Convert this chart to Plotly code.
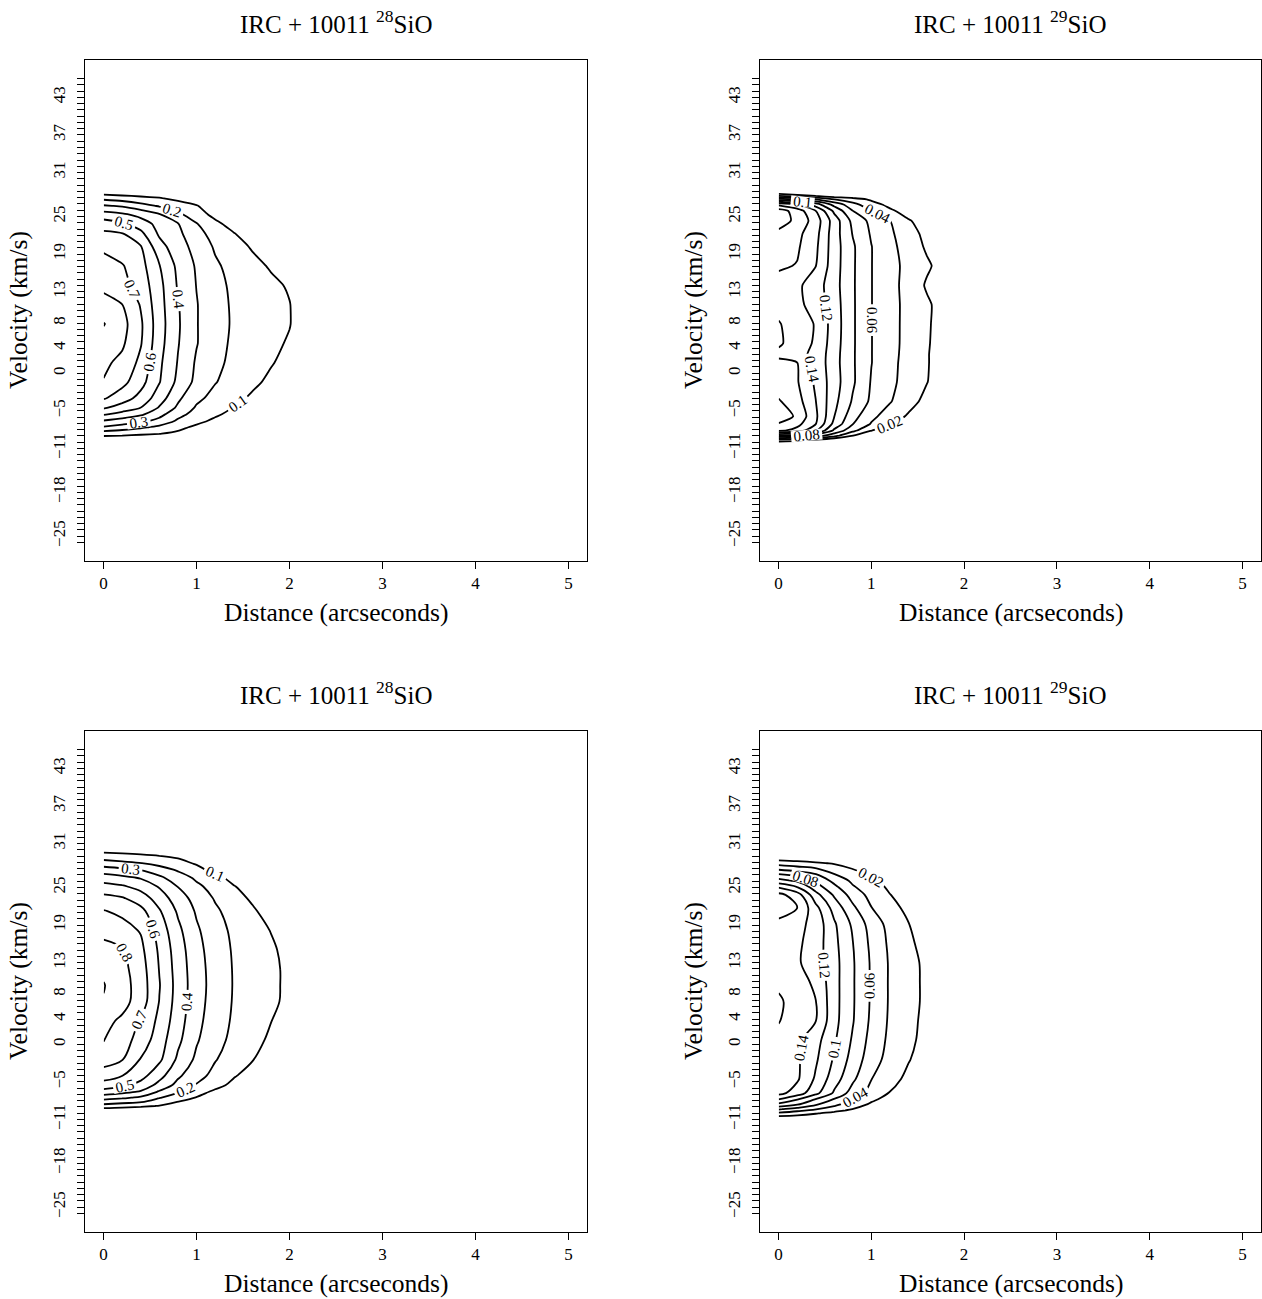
import plotly.graph_objects as go

W, H = 1262, 1299
FONT = "Liberation Serif, Times New Roman, serif"

# ---------------- data ----------------
distance = [0.0, 0.2, 0.4, 0.6, 0.8, 1.0, 1.2, 1.4, 1.6, 1.8, 2.0, 2.2, 2.4]

# observed 28SiO (top left)
vel_obs28 = [-11, -9.8, -9, -8, -7, -6, -5, -3.5, -1, 2, 5, 8, 11, 14, 17, 20,
             22, 23.5, 25, 26.3, 27.5, 28.5, 30]
z_obs28 = [
    [0, 0, 0, 0, 0, 0, 0, 0, 0, 0, 0, 0, 0],
    [0.05, 0.05, 0.04, 0.04, 0.03, 0.02, 0.01, 0, 0, 0, 0, 0, 0],
    [0.14, 0.128, 0.115, 0.103, 0.08, 0.05, 0.02, 0, 0, 0, 0, 0, 0],
    [0.29, 0.254, 0.218, 0.175, 0.125, 0.08, 0.04, 0.02, 0, 0, 0, 0, 0],
    [0.395, 0.363, 0.326, 0.271, 0.186, 0.13, 0.08, 0.04, 0.02, 0, 0, 0, 0],
    [0.51, 0.463, 0.416, 0.332, 0.23, 0.166, 0.117, 0.07, 0.04, 0.02, 0, 0, 0],
    [0.61, 0.556, 0.498, 0.39, 0.282, 0.187, 0.143, 0.095, 0.06, 0.03, 0.01, 0, 0],
    [0.71, 0.645, 0.567, 0.447, 0.319, 0.223, 0.168, 0.126, 0.085, 0.045, 0.015, 0, 0],
    [0.795, 0.731, 0.635, 0.505, 0.376, 0.274, 0.205, 0.16, 0.12, 0.08, 0.04, 0.01, 0],
    [0.82, 0.774, 0.675, 0.519, 0.394, 0.287, 0.223, 0.177, 0.142, 0.107, 0.07, 0.02, 0],
    [0.86, 0.816, 0.707, 0.536, 0.406, 0.305, 0.233, 0.184, 0.153, 0.122, 0.09, 0.03, 0],
    [0.905, 0.835, 0.715, 0.543, 0.412, 0.305, 0.237, 0.189, 0.161, 0.132, 0.104, 0.04, 0],
    [0.83, 0.801, 0.692, 0.536, 0.406, 0.305, 0.235, 0.187, 0.159, 0.131, 0.103, 0.04, 0],
    [0.78, 0.73, 0.659, 0.529, 0.39, 0.297, 0.228, 0.182, 0.151, 0.12, 0.09, 0.03, 0],
    [0.74, 0.708, 0.635, 0.505, 0.377, 0.289, 0.215, 0.168, 0.128, 0.09, 0.05, 0.02, 0],
    [0.68, 0.64, 0.605, 0.436, 0.343, 0.265, 0.188, 0.138, 0.09, 0.05, 0.02, 0.01, 0],
    [0.62, 0.604, 0.525, 0.384, 0.322, 0.235, 0.16, 0.105, 0.05, 0.02, 0.01, 0, 0],
    [0.55, 0.517, 0.45, 0.367, 0.305, 0.205, 0.126, 0.06, 0.03, 0.01, 0, 0, 0],
    [0.44, 0.413, 0.367, 0.305, 0.22, 0.144, 0.07, 0.03, 0.01, 0, 0, 0, 0],
    [0.31, 0.288, 0.238, 0.189, 0.144, 0.105, 0.05, 0.02, 0, 0, 0, 0, 0],
    [0.17, 0.147, 0.123, 0.105, 0.075, 0.05, 0.02, 0, 0, 0, 0, 0, 0],
    [0.04, 0.03, 0.03, 0.02, 0.02, 0.01, 0, 0, 0, 0, 0, 0, 0],
    [0, 0, 0, 0, 0, 0, 0, 0, 0, 0, 0, 0, 0],
]

# observed 29SiO (top right)
vel_obs29 = [-11.5, -10.6, -10.0, -9.3, -8.5, -7.5, -6.3, -4, -1, 2, 3.3, 5, 8, 11,
             14, 17, 20, 22, 24, 25.5, 26.5, 27.3, 28.0, 28.7, 30]
z_obs29 = [
    [0, 0, 0, 0, 0, 0, 0, 0, 0, 0, 0, 0, 0],
    [0.005, 0.004, 0.002, 0, 0, 0, 0, 0, 0, 0, 0, 0, 0],
    [0.03, 0.0233, 0.0133, 0, 0, 0, 0, 0, 0, 0, 0, 0, 0],
    [0.101, 0.0867, 0.0705, 0.0475, 0.0205, 0.0067, 0, 0, 0, 0, 0, 0, 0],
    [0.165, 0.1533, 0.1233, 0.076, 0.0459, 0.0205, 0.0067, 0, 0, 0, 0, 0, 0],
    [0.178, 0.166, 0.1405, 0.094, 0.0605, 0.0384, 0.0224, 0.0074, 0, 0, 0, 0, 0],
    [0.195, 0.176, 0.144, 0.1005, 0.0677, 0.045, 0.0303, 0.0176, 0.006, 0, 0, 0, 0],
    [0.182, 0.168, 0.1405, 0.1057, 0.0776, 0.0563, 0.0415, 0.0271, 0.0143, 0.0029, 0, 0, 0],
    [0.168, 0.1618, 0.1367, 0.1089, 0.0829, 0.0586, 0.0448, 0.0321, 0.0205, 0.0086, 0, 0, 0],
    [0.165, 0.1605, 0.1343, 0.1075, 0.0825, 0.0605, 0.0457, 0.0329, 0.0212, 0.0105, 0, 0, 0],
    [0.155, 0.1467, 0.1347, 0.108, 0.0825, 0.0605, 0.0462, 0.0335, 0.0212, 0.0105, 0, 0, 0],
    [0.163, 0.1509, 0.1371, 0.1093, 0.0827, 0.0605, 0.0467, 0.0339, 0.0218, 0.0108, 0, 0, 0],
    [0.1615, 0.1506, 0.1386, 0.1105, 0.0827, 0.0605, 0.0467, 0.0341, 0.0224, 0.0111, 0, 0, 0],
    [0.153, 0.1449, 0.132, 0.1093, 0.0827, 0.0605, 0.0467, 0.0343, 0.0229, 0.0114, 0, 0, 0],
    [0.152, 0.144, 0.13, 0.1075, 0.0825, 0.0605, 0.0467, 0.0331, 0.0176, 0.0059, 0, 0, 0],
    [0.163, 0.159, 0.1405, 0.1088, 0.0827, 0.0605, 0.0467, 0.0343, 0.0229, 0.0114, 0, 0, 0],
    [0.17, 0.1629, 0.144, 0.1093, 0.0827, 0.0605, 0.0457, 0.0311, 0.0171, 0.0057, 0, 0, 0],
    [0.175, 0.1656, 0.1467, 0.1092, 0.0789, 0.0579, 0.0436, 0.028, 0.0143, 0.003, 0, 0, 0],
    [0.19, 0.175, 0.1505, 0.1105, 0.0744, 0.0548, 0.0405, 0.0218, 0.0105, 0, 0, 0, 0],
    [0.19, 0.171, 0.1405, 0.096, 0.0605, 0.0405, 0.024, 0.011, 0, 0, 0, 0, 0],
    [0.155, 0.1405, 0.1105, 0.0733, 0.0467, 0.028, 0.0143, 0.003, 0, 0, 0, 0, 0],
    [0.09, 0.076, 0.0605, 0.0405, 0.0286, 0.017, 0.0057, 0, 0, 0, 0, 0, 0],
    [0.025, 0.0205, 0.007, 0, 0, 0, 0, 0, 0, 0, 0, 0, 0],
    [0, 0, 0, 0, 0, 0, 0, 0, 0, 0, 0, 0, 0],
    [0, 0, 0, 0, 0, 0, 0, 0, 0, 0, 0, 0, 0],
]

# model 28SiO (bottom left)
vel_mod28 = [-11, -9.8, -9.2, -8.6, -7.9, -7, -6, -4.5, -2, 1, 4, 7, 9.5, 12, 15, 18,
             21, 23, 24.8, 26.2, 27.4, 28.4, 29.4, 30.5, 31.5]
z_mod28 = [
    [0, 0, 0, 0, 0, 0, 0, 0, 0, 0, 0, 0, 0],
    [0.05, 0.045, 0.04, 0.035, 0.025, 0.015, 0.005, 0, 0, 0, 0, 0, 0],
    [0.16, 0.138, 0.116, 0.095, 0.06, 0.03, 0.01, 0, 0, 0, 0, 0, 0],
    [0.25, 0.225, 0.205, 0.147, 0.095, 0.05, 0.02, 0, 0, 0, 0, 0, 0],
    [0.343, 0.318, 0.281, 0.207, 0.15, 0.095, 0.05, 0.02, 0, 0, 0, 0, 0],
    [0.4625, 0.429, 0.388, 0.287, 0.211, 0.141, 0.08, 0.045, 0.02, 0, 0, 0, 0],
    [0.554, 0.521, 0.466, 0.367, 0.268, 0.192, 0.131, 0.075, 0.04, 0.015, 0, 0, 0],
    [0.65, 0.602, 0.536, 0.435, 0.317, 0.237, 0.169, 0.109, 0.06, 0.025, 0, 0, 0],
    [0.744, 0.705, 0.594, 0.519, 0.381, 0.28, 0.206, 0.152, 0.105, 0.05, 0.015, 0, 0],
    [0.805, 0.745, 0.658, 0.547, 0.422, 0.31, 0.234, 0.175, 0.128, 0.085, 0.045, 0.01, 0],
    [0.83, 0.782, 0.689, 0.575, 0.444, 0.328, 0.248, 0.187, 0.144, 0.102, 0.06, 0.02, 0],
    [0.895, 0.837, 0.751, 0.597, 0.458, 0.339, 0.257, 0.193, 0.155, 0.117, 0.08, 0.04, 0],
    [0.905, 0.842, 0.753, 0.605, 0.462, 0.344, 0.26, 0.195, 0.158, 0.12, 0.08, 0.04, 0],
    [0.88, 0.83, 0.745, 0.596, 0.457, 0.341, 0.258, 0.194, 0.157, 0.12, 0.08, 0.04, 0],
    [0.83, 0.807, 0.724, 0.584, 0.447, 0.332, 0.251, 0.19, 0.152, 0.115, 0.07, 0.03, 0],
    [0.773, 0.735, 0.693, 0.559, 0.424, 0.315, 0.239, 0.181, 0.138, 0.097, 0.05, 0.02, 0],
    [0.705, 0.68, 0.63, 0.51, 0.386, 0.288, 0.216, 0.162, 0.114, 0.06, 0.02, 0, 0],
    [0.631, 0.609, 0.55, 0.453, 0.347, 0.262, 0.191, 0.136, 0.085, 0.04, 0.01, 0, 0],
    [0.5375, 0.513, 0.466, 0.391, 0.297, 0.222, 0.161, 0.105, 0.06, 0.025, 0, 0, 0],
    [0.445, 0.421, 0.389, 0.318, 0.248, 0.181, 0.125, 0.07, 0.035, 0.01, 0, 0, 0],
    [0.348, 0.323, 0.295, 0.241, 0.187, 0.129, 0.07, 0.035, 0.01, 0, 0, 0, 0],
    [0.244, 0.224, 0.204, 0.17, 0.13, 0.09, 0.05, 0.02, 0, 0, 0, 0, 0],
    [0.157, 0.141, 0.125, 0.109, 0.09, 0.06, 0.03, 0.01, 0, 0, 0, 0, 0],
    [0.06, 0.055, 0.05, 0.045, 0.035, 0.025, 0.01, 0, 0, 0, 0, 0, 0],
    [0, 0, 0, 0, 0, 0, 0, 0, 0, 0, 0, 0, 0],
]

# model 29SiO (bottom right)
vel_mod29 = [-11.5, -10.8, -10.3, -9.7, -9.0, -8.2, -7.2, -5, -2, 1, 4, 7, 10, 13,
             16, 19, 21.5, 23.5, 24.7, 25.7, 26.7, 27.6, 28.4, 29.2, 30.5]
z_mod29 = [
    [0, 0, 0, 0, 0, 0, 0, 0, 0, 0, 0, 0, 0],
    [0.019, 0.016, 0.012, 0.008, 0.004, 0.001, 0, 0, 0, 0, 0, 0, 0],
    [0.037, 0.0294, 0.0221, 0.015, 0.008, 0.002, 0, 0, 0, 0, 0, 0, 0],
    [0.062, 0.0514, 0.0405, 0.03, 0.0195, 0.01, 0, 0, 0, 0, 0, 0, 0],
    [0.094, 0.0805, 0.0618, 0.0443, 0.0293, 0.0165, 0.0065, 0, 0, 0, 0, 0, 0],
    [0.1195, 0.1005, 0.078, 0.058, 0.0385, 0.0237, 0.0125, 0.0025, 0, 0, 0, 0, 0],
    [0.146, 0.1311, 0.1057, 0.0771, 0.0511, 0.0329, 0.019, 0.0085, 0, 0, 0, 0, 0],
    [0.15, 0.1429, 0.1171, 0.0893, 0.0638, 0.0405, 0.0271, 0.0153, 0.005, 0, 0, 0, 0],
    [0.152, 0.1434, 0.1229, 0.0975, 0.0725, 0.0489, 0.0329, 0.0212, 0.0105, 0, 0, 0, 0],
    [0.154, 0.1447, 0.1275, 0.1025, 0.0775, 0.0533, 0.0356, 0.0244, 0.0137, 0.003, 0, 0, 0],
    [0.161, 0.1505, 0.1405, 0.1063, 0.0813, 0.0563, 0.0371, 0.0257, 0.0147, 0.004, 0, 0, 0],
    [0.163, 0.1518, 0.1405, 0.107, 0.0821, 0.0576, 0.0378, 0.0267, 0.0158, 0.005, 0, 0, 0],
    [0.156, 0.1476, 0.1365, 0.107, 0.0821, 0.0576, 0.0378, 0.0267, 0.0158, 0.005, 0, 0, 0],
    [0.148, 0.1427, 0.1297, 0.107, 0.0821, 0.0576, 0.0378, 0.0267, 0.0153, 0.005, 0, 0, 0],
    [0.15, 0.1438, 0.1306, 0.1053, 0.0805, 0.0556, 0.0363, 0.0238, 0.0126, 0.002, 0, 0, 0],
    [0.155, 0.1467, 0.1327, 0.1027, 0.0763, 0.0518, 0.0333, 0.0205, 0.01, 0, 0, 0, 0],
    [0.17, 0.1609, 0.126, 0.0923, 0.064, 0.0405, 0.0267, 0.015, 0.005, 0, 0, 0, 0],
    [0.166, 0.15, 0.1073, 0.0773, 0.0518, 0.0335, 0.0206, 0.0103, 0, 0, 0, 0, 0],
    [0.138, 0.1205, 0.09, 0.0651, 0.0423, 0.0288, 0.0167, 0.0056, 0, 0, 0, 0, 0],
    [0.107, 0.0962, 0.0767, 0.0544, 0.0359, 0.0241, 0.0132, 0.0026, 0, 0, 0, 0, 0],
    [0.081, 0.0727, 0.0606, 0.0405, 0.0279, 0.0162, 0.0054, 0, 0, 0, 0, 0, 0],
    [0.054, 0.0473, 0.041, 0.03, 0.019, 0.012, 0.006, 0, 0, 0, 0, 0, 0],
    [0.0325, 0.028, 0.0234, 0.018, 0.013, 0.008, 0.003, 0, 0, 0, 0, 0, 0],
    [0.01, 0.008, 0.005, 0.002, 0, 0, 0, 0, 0, 0, 0, 0, 0],
    [0, 0, 0, 0, 0, 0, 0, 0, 0, 0, 0, 0, 0],
]

x_tick_values = [0, 1, 2, 3, 4, 5]
velocity_tick_labels = [-25, -18, -11, -5, 0, 4, 8, 13, 19, 25, 31, 37, 43]
channel_first, channel_last, n_channels = -25.85, 46.02, 75
title_isotopes = ["28", "29", "28", "29"]

# ---------------- layout geometry ----------------
x_dom = [(85 / W, 587 / W), (760 / W, 1261 / W)]
y_dom = [(1 - 561 / H, 1 - 60 / H), (1 - 1232 / H, 1 - 731 / H)]
x_range = [-0.2, 5.2]
y_range = [-28.72, 48.89]

channels = [channel_first + i * (channel_last - channel_first) / (n_channels - 1)
            for i in range(n_channels)]
ticktext = [" "] * n_channels
for lab in velocity_tick_labels:
    k = min(range(n_channels), key=lambda j: abs(channels[j] - lab))
    ticktext[k] = ("\u2212" + str(-lab)) if lab < 0 else str(lab)

panels = [
    (vel_obs28, z_obs28, 0.1, 0.9, 0.1, 0, 0, 0.6),
    (vel_obs29, z_obs29, 0.02, 0.18, 0.02, 1, 0, 0.6),
    (vel_mod28, z_mod28, 0.1, 0.9, 0.1, 0, 1, 1.0),
    (vel_mod29, z_mod29, 0.02, 0.18, 0.02, 1, 1, 1.0),
]

fig = go.Figure()
layout = dict(
    width=W, height=H, autosize=False,
    margin=dict(l=0, r=0, t=0, b=0),
    paper_bgcolor="white", plot_bgcolor="white",
    showlegend=False, font=dict(family=FONT, color="black"),
)
annotations = []

for i, (vel, z, s, e, step, col, row, smooth) in enumerate(panels):
    n = i + 1
    xa = "x" if n == 1 else f"x{n}"
    ya = "y" if n == 1 else f"y{n}"
    fig.add_trace(go.Contour(
        x=distance, y=vel, z=z, xaxis=xa, yaxis=ya,
        autocontour=False,
        contours=dict(start=s, end=e, size=step, coloring="lines",
                      showlabels=True, labelformat=".2~f",
                      labelfont=dict(family=FONT, size=15, color="black")),
        colorscale=[[0, "black"], [1, "black"]], showscale=False,
        line=dict(width=1.8, smoothing=smooth), hoverinfo="skip",
    ))
    xkey = "xaxis" if n == 1 else f"xaxis{n}"
    ykey = "yaxis" if n == 1 else f"yaxis{n}"
    layout[xkey] = dict(
        domain=list(x_dom[col]), anchor=ya, range=x_range,
        tickmode="array", tickvals=x_tick_values,
        ticktext=[str(t) for t in x_tick_values],
        ticks="outside", ticklen=7, tickwidth=1, tickcolor="black",
        showline=True, linecolor="black", linewidth=1, mirror=True,
        showgrid=False, zeroline=False,
        tickfont=dict(family=FONT, size=17, color="black"),
    )
    layout[ykey] = dict(
        domain=list(y_dom[row]), anchor=xa, range=y_range,
        tickmode="array", tickvals=channels, ticktext=ticktext,
        ticks="outside", ticklen=7, tickwidth=1, tickcolor="black",
        tickangle=-90, ticklabelstandoff=5,
        showline=True, linecolor="black", linewidth=1, mirror=True,
        showgrid=False, zeroline=False,
        tickfont=dict(family=FONT, size=17, color="black"),
    )
    cx = (x_dom[col][0] + x_dom[col][1]) / 2
    top_px = 60 + 671 * row
    annotations.append(dict(
        text=f"IRC + 10011 <sup>{title_isotopes[i]}</sup>SiO",
        x=cx, y=1 - (top_px - 38) / H, xref="paper", yref="paper",
        xanchor="center", yanchor="middle", showarrow=False,
        font=dict(family=FONT, size=25, color="black")))
    annotations.append(dict(
        text="Distance (arcseconds)",
        x=cx, y=1 - (top_px + 552) / H, xref="paper", yref="paper",
        xanchor="center", yanchor="middle", showarrow=False,
        font=dict(family=FONT, size=25.5, color="black")))
    annotations.append(dict(
        text="Velocity (km/s)", textangle=-90,
        x=(18 + 675 * col) / W, y=1 - (top_px + 250) / H,
        xref="paper", yref="paper",
        xanchor="center", yanchor="middle", showarrow=False,
        font=dict(family=FONT, size=25.5, color="black")))

layout["annotations"] = annotations
fig.update_layout(**layout)

fig.write_html("out.html", config={"displayModeBar": False},
               post_script="document.body.style.margin='0';")
